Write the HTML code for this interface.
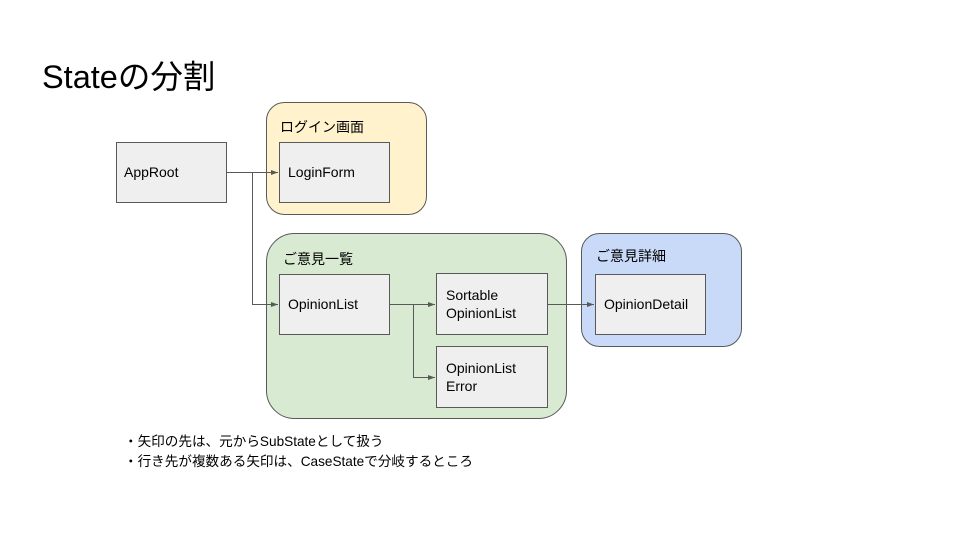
<!DOCTYPE html>
<html><head><meta charset="utf-8"><style>
body{margin:0;background:#fff;}
svg{display:block;font-family:"Liberation Sans","Noto Sans CJK JP",sans-serif;}
</style></head><body>
<svg width="960" height="540" viewBox="0 0 960 540" xmlns="http://www.w3.org/2000/svg">
<defs><marker id="a" markerWidth="8" markerHeight="8" refX="7" refY="4" orient="auto" markerUnits="userSpaceOnUse"><path d="M0,1.5 L7,4 L0,6.5z" fill="#595959"/></marker></defs>
<text x="42" y="88" font-size="32.5" fill="#000">Stateの分割</text>
<rect x="266.5" y="102.5" width="160" height="112" rx="18" fill="#fff2cc" stroke="#595959"/>
<rect x="266.5" y="233.5" width="300" height="185" rx="28" fill="#d9ead3" stroke="#595959"/>
<rect x="581.5" y="233.5" width="160" height="113" rx="18" fill="#c9daf8" stroke="#595959"/>
<text x="280" y="132" font-size="14">ログイン画面</text>
<text x="283" y="264" font-size="14">ご意見一覧</text>
<text x="596" y="261" font-size="14">ご意見詳細</text>
<g fill="#efefef" stroke="#595959">
<rect x="116.5" y="142.5" width="110" height="60"/>
<rect x="279.5" y="142.5" width="110" height="60"/>
<rect x="279.5" y="274.5" width="110" height="60"/>
<rect x="436.5" y="273.5" width="111" height="61"/>
<rect x="436.5" y="346.5" width="111" height="61"/>
<rect x="595.5" y="274.5" width="110" height="60"/>
</g>
<g font-size="14" fill="#000">
<text x="124" y="177">AppRoot</text>
<text x="288" y="177">LoginForm</text>
<text x="288" y="309">OpinionList</text>
<text x="446" y="300">Sortable</text>
<text x="446" y="318">OpinionList</text>
<text x="446" y="373">OpinionList</text>
<text x="446" y="391">Error</text>
<text x="604" y="309">OpinionDetail</text>
</g>
<g fill="none" stroke="#595959" stroke-width="1">
<path d="M226.5,172.5 H278" marker-end="url(#a)"/>
<path d="M252.5,172.5 V304.5 H278" marker-end="url(#a)"/>
<path d="M389.5,304.5 H435" marker-end="url(#a)"/>
<path d="M413.5,304.5 V377.5 H435" marker-end="url(#a)"/>
<path d="M547.5,304.5 H594" marker-end="url(#a)"/>
</g>
<g font-size="13.6" fill="#000">
<text x="124" y="446">・矢印の先は、元からSubStateとして扱う</text>
<text x="124" y="466">・行き先が複数ある矢印は、CaseStateで分岐するところ</text>
</g>
</svg>
</body></html>
